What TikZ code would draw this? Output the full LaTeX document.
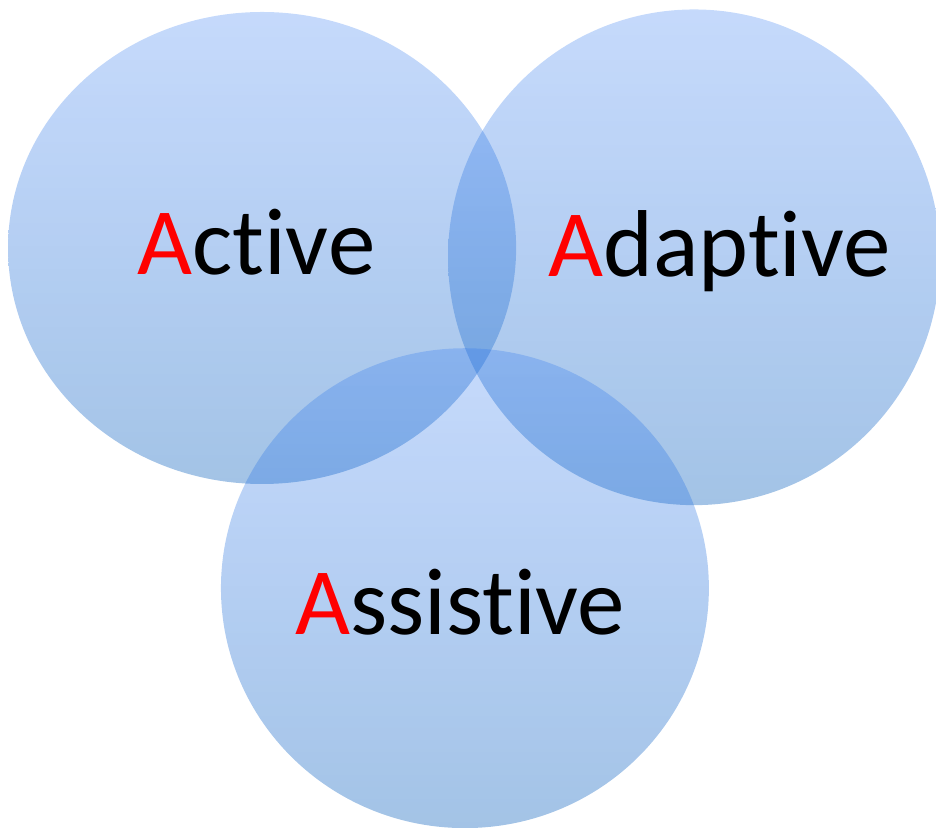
\documentclass[tikz,border=0pt]{standalone}
\usepackage{fontspec}
\setmainfont{Carlito}[Ligatures=NoCommon]
\usetikzlibrary{fadings}
\definecolor{discTop}{RGB}{35,112,240}
\definecolor{discBottom}{RGB}{35,112,195}
\tikzfading[name=discfade, top color=transparent!74, bottom color=transparent!58]
\tikzset{
  disc/.style={top color=discTop, bottom color=discBottom, path fading=discfade},
  word/.style={font=\fontsize{95}{100}\selectfont, anchor=base west, inner sep=0pt}
}
\begin{document}
\begin{tikzpicture}[x=1pt,y=-1pt]
\useasboundingbox (0,0) rectangle (936,827);

% Three overlapping discs, more opaque towards the bottom.
\shade[disc] (262,248) ellipse [x radius=254pt, y radius=236pt];
\shade[disc] (694,257) ellipse [x radius=246pt, y radius=248pt];
\shade[disc] (465,588) ellipse [x radius=244pt, y radius=240pt];

% Labels, first letter in red.
\node[word] (active) at (137,274) {\textcolor{red}{A}ctive};
\node[word] (adaptive) at (548,276) {\textcolor{red}{A}daptive};
\node[word] (assistive) at (295,634) {\textcolor{red}{A}ssistive};
\end{tikzpicture}
\end{document}
